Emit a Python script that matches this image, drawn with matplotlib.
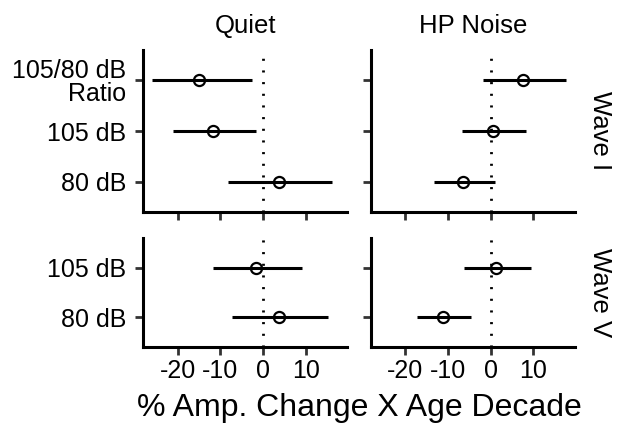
import matplotlib
matplotlib.use('Agg')
import matplotlib.pyplot as plt

plt.rcParams['font.family'] = ['Liberation Sans', 'DejaVu Sans']

# rows (bottom to top within each facet)
wave1_labels = ['80 dB', '105 dB', '105/80 dB\nRatio']
wave5_labels = ['80 dB', '105 dB']
conditions = ['Quiet', 'HP Noise']
waves = ['Wave I', 'Wave V']

# Quiet
quiet_w1_est = [3.7, -11.7, -14.9]
quiet_w1_lo = [-8.1, -21.0, -26.1]
quiet_w1_hi = [16.3, -1.6, -2.6]
quiet_w5_est = [3.7, -1.6]
quiet_w5_lo = [-7.3, -11.7]
quiet_w5_hi = [15.3, 9.2]

# HP Noise
noise_w1_est = [-6.4, 0.5, 7.6]
noise_w1_lo = [-13.3, -6.6, -1.7]
noise_w1_hi = [1.0, 8.2, 17.6]
noise_w5_est = [-11.1, 1.2]
noise_w5_lo = [-17.3, -6.3]
noise_w5_hi = [-4.5, 9.4]

xticks = [-20, -10, 0, 10]

panels = {
    ('Wave I', 'Quiet'): (wave1_labels, quiet_w1_est, quiet_w1_lo, quiet_w1_hi),
    ('Wave I', 'HP Noise'): (wave1_labels, noise_w1_est, noise_w1_lo, noise_w1_hi),
    ('Wave V', 'Quiet'): (wave5_labels, quiet_w5_est, quiet_w5_lo, quiet_w5_hi),
    ('Wave V', 'HP Noise'): (wave5_labels, noise_w5_est, noise_w5_lo, noise_w5_hi),
}

fig = plt.figure(figsize=(6.18, 4.30), dpi=100)

lefts = {'Quiet': 143 / 618, 'HP Noise': 370.7 / 618}
width = 204 / 618
rows = {'Wave I': (1 - 212 / 430, 162 / 430), 'Wave V': (1 - 346.7 / 430, 108.4 / 430)}

for (wave, cond), (labels, est, lo, hi) in panels.items():
    b, h = rows[wave]
    ax = fig.add_axes([lefts[cond], b, width, h])
    ypos = list(range(1, len(labels) + 1))
    ax.axvline(0, color='black', lw=2.0, linestyle=(0, (0.75, 3.45)), zorder=1)
    ax.hlines(ypos, lo, hi, color='black', lw=2.2, zorder=2)
    ax.plot(est, ypos, 'o', ms=8, mfc='none', mec='black', mew=1.6, zorder=3)
    ax.set_xlim(-28.1, 19.7)
    ax.set_ylim(0.4, len(labels) + 0.6)
    ax.set_xticks(xticks)
    ax.set_yticks(ypos)
    for s in ['top', 'right']:
        ax.spines[s].set_visible(False)
    for s in ['left', 'bottom']:
        ax.spines[s].set_linewidth(2.2)
        ax.spines[s].set_color('black')
    ax.tick_params(length=6, width=2.0, color='#333333', labelsize=18)
    ax.tick_params(axis='y', pad=6)
    ax.tick_params(axis='x', pad=3)
    if cond == 'Quiet':
        ax.set_yticklabels(labels, linespacing=0.95)
    else:
        ax.set_yticklabels([])
    if wave == 'Wave I':
        ax.set_xticklabels([])
        ax.set_title(cond, fontsize=18.5, pad=12)
    else:
        ax.set_xticklabels([str(t) for t in xticks])
    if cond == 'HP Noise':
        ax.text(1.125, 0.5, wave, transform=ax.transAxes, rotation=-90,
                ha='center', va='center', fontsize=18.5)

fig.text(359 / 618, 1 - 408 / 430, '% Amp. Change X Age Decade',
         ha='center', va='center', fontsize=23)

fig.savefig('out.png', dpi=100)
